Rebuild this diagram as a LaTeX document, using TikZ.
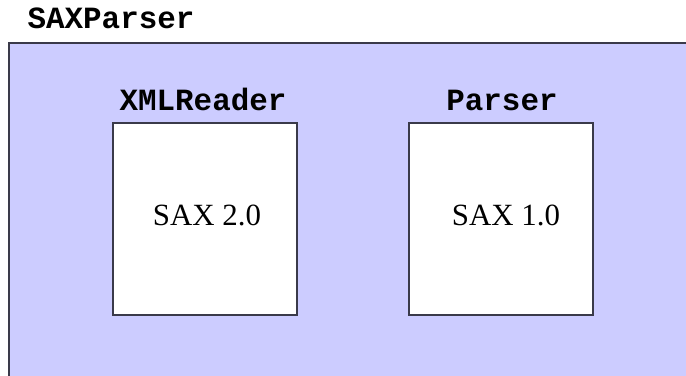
\documentclass[tikz,border=0pt]{standalone}
\usepackage{fontspec}
\setmainfont{Liberation Serif}
\newfontfamily\codefont{Liberation Mono}
\definecolor{panelblue}{HTML}{CCCCFF}
\definecolor{edgegray}{HTML}{3A3A4A}
\begin{document}
\begin{tikzpicture}[x=1bp,y=-1bp,
  panel/.style={fill=panelblue,draw=edgegray,line width=1.3bp},
  innerbox/.style={fill=white,draw=edgegray,line width=1.2bp},
  codelabel/.style={font=\codefont\bfseries\fontsize{31}{36}\selectfont,inner sep=0pt,anchor=base},
  sertext/.style={font=\fontsize{31}{36}\selectfont,inner sep=0pt,anchor=base}]
\path[use as bounding box] (0,0) rectangle (686,375);
\begin{scope}
\clip (0,0) rectangle (686,375);
\draw[panel] (9,43) rectangle (700,390);
\end{scope}
\node[codelabel] (saxparser) at (111,28) {SAXParser};
\draw[innerbox] (113,123) rectangle (297,315);
\node (box1) at (205,219) {};
\draw[innerbox] (409,123) rectangle (593,315);
\node (box2) at (501,219) {};
\node[codelabel] (xmlreader) at (203,110) {XMLReader};
\node[codelabel] (parser) at (502,110) {Parser};
\node[sertext] (sax2) at (207,225) {SAX 2.0};
\node[sertext] (sax1) at (506,225) {SAX 1.0};
\end{tikzpicture}
\end{document}
